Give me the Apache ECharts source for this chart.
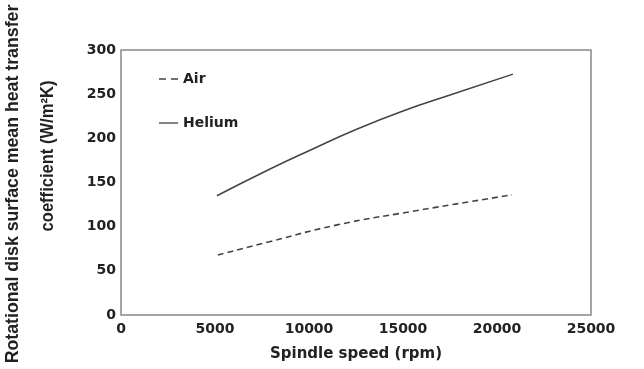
<!DOCTYPE html>
<html>
<head>
<meta charset="utf-8">
<script src="https://cdn.jsdelivr.net/npm/echarts@6/dist/echarts.min.js"></script>
<style>
  html, body { margin: 0; padding: 0; background: #fff; }
  #chart { width: 644px; height: 369px; }
</style>
</head>
<body>
<div id="chart"></div>
<script>
// Spindle speed (rpm) sampled along each curve
const heliumSpeed = [5100, 7900, 10000, 12500, 15000, 17500, 20850];
const heliumCoef  = [135, 165, 186, 210, 231, 249, 272.7];
const airSpeed    = [5150, 7900, 11500, 15400, 20800];
const airCoef     = [68, 83, 102, 117, 136];

const xTicks = { min: 0, max: 25000, interval: 5000 };
const yTicks = { min: 0, max: 300, interval: 50 };

const zip = (xs, ys) => xs.map((x, i) => [x, ys[i]]);

const chart = echarts.init(document.getElementById('chart'));
const wideFace = '"DejaVu Sans", Verdana, sans-serif';
const tickFont = { fontFamily: wideFace, fontWeight: 'bold', fontSize: 14, color: '#222' };
// bold, slightly condensed face for the rotated axis title
const titleFont = { fontFamily: '"Liberation Sans", Arial, sans-serif', fontWeight: 'bold', fontSize: 18, fill: '#222' };

chart.setOption({
  animation: false,
  backgroundColor: '#fff',
  grid: { left: 121, right: 53, top: 50, bottom: 54, show: true, borderColor: '#888', borderWidth: 1.5, backgroundColor: 'transparent' },
  legend: {
    left: 154, top: 67, orient: 'vertical', itemGap: 30, itemWidth: 19, itemHeight: 12,
    textStyle: { fontFamily: wideFace, fontWeight: 'bold', fontSize: 14, color: '#222' },
    data: [
      { name: 'Air', icon: 'path://M0,5h7v1.6h-7z M12,5h7v1.6h-7z' },
      { name: 'Helium', icon: 'path://M0,5h20v1.4h-20z' }
    ]
  },
  xAxis: {
    type: 'value', min: xTicks.min, max: xTicks.max, interval: xTicks.interval,
    axisLine: { show: false }, axisTick: { show: false }, splitLine: { show: false },
    axisLabel: Object.assign({ margin: 7, formatter: v => String(v) }, tickFont),
    name: 'Spindle speed (rpm)', nameLocation: 'middle', nameGap: 32,
    nameTextStyle: { fontFamily: wideFace, fontWeight: 'bold', fontSize: 15, color: '#222' }
  },
  yAxis: {
    type: 'value', min: yTicks.min, max: yTicks.max, interval: yTicks.interval,
    axisLine: { show: false }, axisTick: { show: false }, splitLine: { show: false },
    axisLabel: Object.assign({ margin: 5, formatter: v => String(v) }, tickFont)
  },
  graphic: [
    { type: 'text', x: 13, y: 184, rotation: Math.PI / 2, scaleX: 0.985,
      style: Object.assign({ text: 'Rotational disk surface mean heat transfer', x: 0, y: 0, align: 'center', verticalAlign: 'middle' }, titleFont) },
    { type: 'text', x: 48, y: 156, rotation: Math.PI / 2, scaleX: 0.92,
      style: Object.assign({ text: 'coefficient (W/m²K)', x: 0, y: 0, align: 'center', verticalAlign: 'middle' }, titleFont) }
  ],
  series: [
    { name: 'Air', type: 'line', smooth: true, symbol: 'none', data: zip(airSpeed, airCoef),
      lineStyle: { color: '#444', width: 1.6, type: [6, 4] }, itemStyle: { color: '#444' } },
    { name: 'Helium', type: 'line', smooth: true, symbol: 'none', data: zip(heliumSpeed, heliumCoef),
      lineStyle: { color: '#444', width: 1.5 }, itemStyle: { color: '#444' } }
  ]
});
</script>
</body>
</html>
